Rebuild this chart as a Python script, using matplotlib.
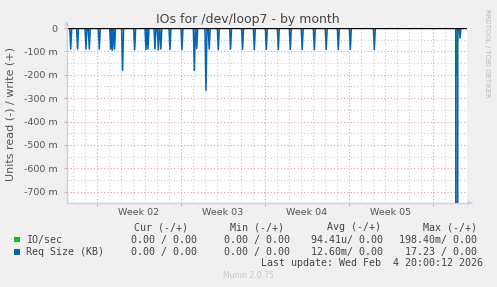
import matplotlib
matplotlib.use("Agg")
import matplotlib.pyplot as plt
from matplotlib.patches import Polygon
from matplotlib.lines import Line2D
import numpy as np

# ---- data (time in days since 2026-01-01 00:00) ----
x_start, x_end = 1.5, 34.833
week_starts = [4, 11, 18, 25, 32]
week_labels = ["Week 02", "Week 03", "Week 04", "Week 05"]
week_label_pos = [7.5, 14.5, 21.5, 28.5]

req_spike_t = [1.81, 2.38, 3.08, 3.36, 4.19, 5.14, 5.28, 5.46, 6.13, 7.14,
               8.08, 8.25, 8.83, 9.11, 9.32, 10.08, 11.08, 12.11, 12.31, 13.08,
               13.35, 14.11, 15.13, 16.13, 17.11, 18.11, 19.11, 20.11, 21.10,
               22.11, 23.10, 24.11, 25.11, 27.11, 33.98, 34.25]
req_spike_v = [-0.090, -0.090, -0.090, -0.090, -0.090, -0.090, -0.096, -0.090, -0.181, -0.093,
               -0.093, -0.090, -0.090, -0.093, -0.090, -0.093, -0.093, -0.181, -0.088, -0.267,
               -0.090, -0.093, -0.090, -0.092, -0.092, -0.092, -0.092, -0.092, -0.092,
               -0.092, -0.092, -0.092, -0.092, -0.092, -17.23, -0.043]
io_spike_t = [33.98]
io_spike_v = [-0.1984]

y_ticks = [0, -0.1, -0.2, -0.3, -0.4, -0.5, -0.6, -0.7]
y_tick_labels = ["0", "-100 m", "-200 m", "-300 m", "-400 m", "-500 m", "-600 m", "-700 m"]
y_min = -0.748

legend_rows = [
    ("IO/sec", "#00cc00", "0.00 / 0.00", "0.00 / 0.00", "94.41u/ 0.00", "198.40m/ 0.00"),
    ("Req Size (KB)", "#0066b3", "0.00 / 0.00", "0.00 / 0.00", "12.60m/ 0.00", "17.23 / 0.00"),
]
last_update = "Last update: Wed Feb  4 20:00:12 2026"

HALF = 1.0 / 12.0  # 2h resolution


def spikes_to_series(ts, vs, half):
    xs, ys = [x_start], [0.0]
    for t, v in sorted(zip(ts, vs)):
        xs += [t - half, t, t + half]
        ys += [0.0, v, 0.0]
    xs.append(x_end)
    ys.append(0.0)
    return xs, ys


W, H = 497, 287
fig = plt.figure(figsize=(W / 100, H / 100), dpi=100, facecolor="#F0F0F0")


def fx(x):
    return x / W


def fy(y):
    return 1 - y / H


L, R, T, B = 67, 467, 28, 203
ax = fig.add_axes([fx(L), fy(B), (R - L) / W, (B - T) / H])
ax.set_facecolor("white")
ax.set_xlim(x_start, x_end)
ax.set_ylim(y_min, 0)

# grid
for d in np.arange(2, 35):
    if d not in week_starts:
        ax.axvline(d, color="#cccccc", lw=0.8, ls=(0, (1, 2)), zorder=1)
for v in np.arange(-0.05, -0.75, -0.1):
    ax.axhline(v, color="#cccccc", lw=0.8, ls=(0, (1, 2)), zorder=1)
for d in week_starts:
    ax.axvline(d, color="#e8a0a0", lw=0.8, ls=(0, (1, 2)), zorder=1)
for v in y_ticks:
    ax.axhline(v, color="#e8a0a0", lw=0.8, ls=(0, (1, 2)), zorder=1)

# IO/sec drawn first; its small read spike lies underneath the large Req Size spike
gx, gy = spikes_to_series(io_spike_t, io_spike_v, HALF)
ax.plot(gx, gy, color="#00cc00", lw=1, zorder=3)
bx, by = spikes_to_series(req_spike_t, req_spike_v, HALF)
ax.plot(bx, by, color="#0066b3", lw=1.1, zorder=4)
# the wide 2h-average footprint of the big spike (light blue body, as in rrdtool rendering)
big = int(np.argmin(req_spike_v))
ax.fill_between([req_spike_t[big] - HALF, req_spike_t[big], req_spike_t[big] + HALF],
                [0, req_spike_v[big], 0], 0, color="#0066b3", alpha=0.55, lw=0, zorder=3.5)
ax.axhline(0, color="black", lw=1, zorder=5)

for s in ["top", "right"]:
    ax.spines[s].set_visible(False)
for s in ["left", "bottom"]:
    ax.spines[s].set_color("#ccccee")
    ax.spines[s].set_linewidth(1)

ax.set_yticks(y_ticks)
ax.set_yticklabels(y_tick_labels, fontsize=6.8, color="#555555")
ax.set_xticks(week_starts)
ax.set_xticklabels([])
ax.tick_params(axis="y", length=2, color="#e8a0a0", pad=5)
ax.tick_params(axis="x", length=2, color="#e8a0a0", direction="out")
for p, lab in zip(week_label_pos, week_labels):
    ax.text(p, y_min - 0.022, lab, transform=ax.transData, ha="center", va="top",
            fontsize=6.8, color="#555555")

# axis arrows
fig.add_artist(Polygon([(fx(64), fy(26)), (fx(69.5), fy(26)), (fx(66.7), fy(21))],
                       closed=True, transform=fig.transFigure, color="#ccccee", lw=0))
fig.add_artist(Line2D([fx(66.5), fx(66.5)], [fy(28), fy(26)], transform=fig.transFigure,
                      color="#ccccee", lw=1))
fig.add_artist(Polygon([(fx(467.5), fy(200.5)), (fx(467.5), fy(205.5)), (fx(473.5), fy(203))],
                       closed=True, transform=fig.transFigure, color="#ccccee", lw=0))

# titles
fig.text(fx(248), fy(19), "IOs for /dev/loop7 - by month", ha="center", va="center",
         fontsize=9, color="#444444")
fig.text(fx(10.5), fy(114), "Units read (-) / write (+)", ha="center", va="center",
         rotation=90, fontsize=8, color="#555555")
fig.text(fx(487), fy(53), "RRDTOOL / TOBI OETIKER", ha="center", va="center",
         rotation=270, fontsize=5, color="#bbbbbb")

# legend
mono = dict(family="DejaVu Sans Mono", fontsize=7.2, color="#444444", va="center")
for xh, h in zip([134.3, 230, 326.7, 422.7], ["Cur (-/+)", "Min (-/+)", "Avg (-/+)", "Max (-/+)"]):
    fig.text(fx(xh), fy(227.3), h, ha="left", **mono)
col_right = [196.7, 290, 383.3, 476.7]
for i, (name, col, c1, c2, c3, c4) in enumerate(legend_rows):
    yy = 239.5 + i * 12.3
    fig.add_artist(Polygon([(fx(14), fy(yy - 2.7)), (fx(19.5), fy(yy - 2.7)),
                            (fx(19.5), fy(yy + 2.7)), (fx(14), fy(yy + 2.7))],
                           closed=True, transform=fig.transFigure, color=col, lw=0))
    fig.text(fx(26), fy(yy), name, ha="left", **mono)
    for xr, val in zip(col_right, [c1, c2, c3, c4]):
        fig.text(fx(xr), fy(yy), val, ha="right", **mono)
fig.text(fx(482.7), fy(263.3), last_update, ha="right", **mono)
fig.text(fx(248), fy(276), "Munin 2.0.75", ha="center", va="center",
         fontsize=5.6, color="#c8c8c8")

fig.savefig("out.png", dpi=100, facecolor=fig.get_facecolor())
